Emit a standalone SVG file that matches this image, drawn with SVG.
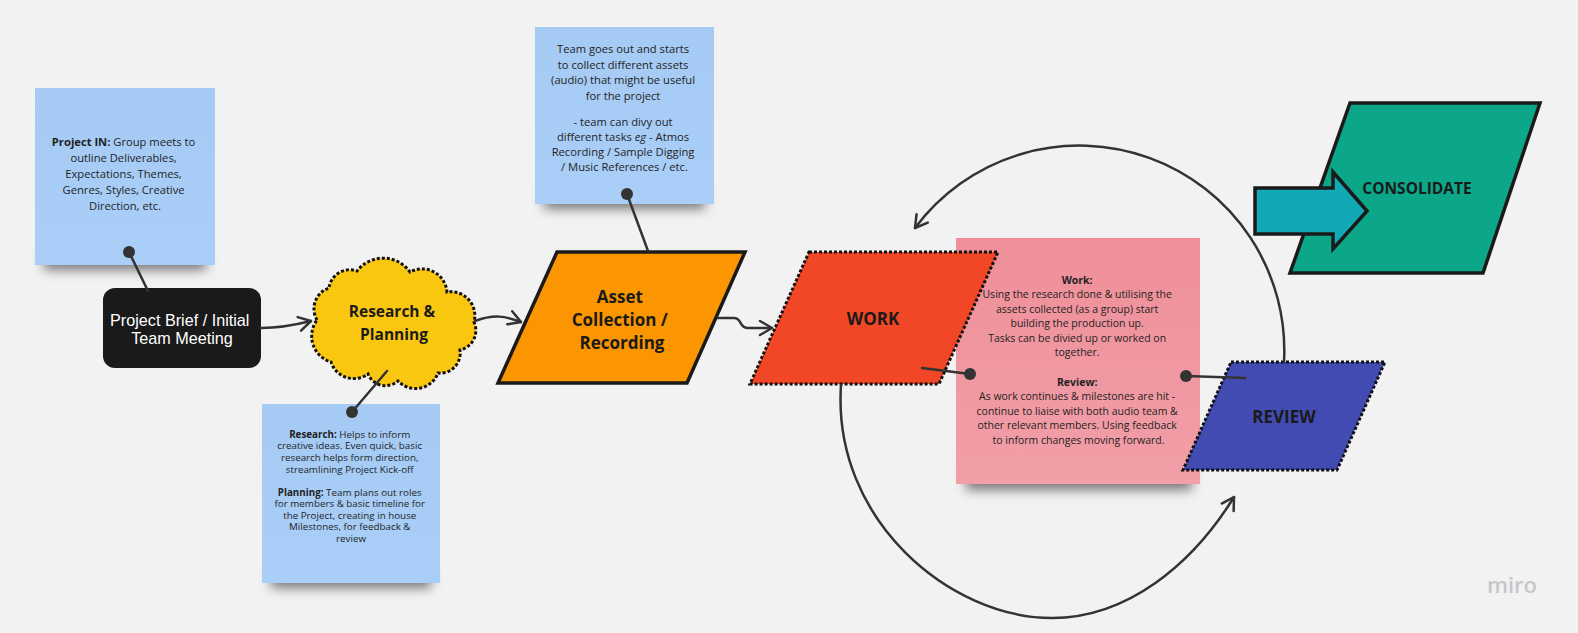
<svg xmlns="http://www.w3.org/2000/svg" width="1578" height="633" viewBox="0 0 1578 633">
<defs>
<style>
.note{font-family:"Open Sans","Noto Sans",sans-serif;fill:#1f1f1f;text-anchor:middle}
.lbl{font-family:"Open Sans","Noto Sans",sans-serif;font-weight:700;fill:#1a1a1a;text-anchor:middle}
.conn{fill:none;stroke:#333;stroke-width:2.5;stroke-linecap:round}
.dot{fill:#333}
.dotted{stroke:#111;stroke-width:3;stroke-dasharray:3 2}
.shadow{fill:#000;opacity:0.5;filter:url(#blur)}
.b{font-weight:700}
</style>
<filter id="blur" x="-20%" y="-100%" width="140%" height="300%"><feGaussianBlur stdDeviation="6"/></filter>
<linearGradient id="pinkg" x1="0" y1="0" x2="0" y2="1"><stop offset="0" stop-color="#ee8f99"/><stop offset="1" stop-color="#f29fa8"/></linearGradient>
<linearGradient id="blueg" x1="0" y1="0" x2="0" y2="1"><stop offset="0" stop-color="#a5caf4"/><stop offset="1" stop-color="#a9cef7"/></linearGradient>
<marker id="arr" markerUnits="userSpaceOnUse" markerWidth="18" markerHeight="20" viewBox="-15 -10 18 20" refX="0" refY="0" orient="auto" overflow="visible"><path d="M-12,-7 L0,0 L-12,7" fill="none" stroke="#333" stroke-width="2.5" stroke-linecap="round" stroke-linejoin="round"/></marker>
</defs>
<rect width="1578" height="633" fill="#f2f2f2"/>

<g id="note-project-in">
<rect class="shadow" x="44" y="250" width="162" height="20"/>
<rect x="35" y="88" width="180" height="177" fill="url(#blueg)"/>
<text class="note" font-size="11.2">
<tspan x="125" y="146"><tspan class="b">Project IN:</tspan> Group meets to</tspan>
<tspan x="125" y="162">outline Deliverables,</tspan>
<tspan x="125" y="178">Expectations, Themes,</tspan>
<tspan x="125" y="194">Genres, Styles, Creative</tspan>
<tspan x="125" y="210">Direction, etc.</tspan>
</text>
</g>

<g id="note-research">
<rect class="shadow" x="271" y="568" width="160" height="20"/>
<rect x="262" y="404" width="178" height="179" fill="url(#blueg)"/>
<text class="note" font-size="9.8">
<tspan x="351" y="437.5"><tspan class="b">Research:</tspan> Helps to inform</tspan>
<tspan x="351" y="449">creative ideas. Even quick, basic</tspan>
<tspan x="351" y="461">research helps form direction,</tspan>
<tspan x="351" y="472.5">streamlining Project Kick-off</tspan>
<tspan x="351" y="495.5"><tspan class="b">Planning:</tspan> Team plans out roles</tspan>
<tspan x="351" y="507">for members &amp; basic timeline for</tspan>
<tspan x="351" y="518.5">the Project, creating in house</tspan>
<tspan x="351" y="530">Milestones, for feedback &amp;</tspan>
<tspan x="351" y="541.5">review</tspan>
</text>
</g>

<g id="note-assets">
<rect class="shadow" x="544" y="189" width="161" height="20"/>
<rect x="535" y="27" width="179" height="177" fill="url(#blueg)"/>
<text class="note" font-size="11.2">
<tspan x="624.5" y="53">Team goes out and starts</tspan>
<tspan x="624.5" y="69">to collect different assets</tspan>
<tspan x="624.5" y="84">(audio) that might be useful</tspan>
<tspan x="624.5" y="100">for the project</tspan>
<tspan x="624.5" y="126">- team can divy out</tspan>
<tspan x="624.5" y="141">different tasks <tspan font-style="italic">eg</tspan> - Atmos</tspan>
<tspan x="624.5" y="156">Recording / Sample Digging</tspan>
<tspan x="624.5" y="171">/ Music References / etc.</tspan>
</text>
</g>

<g id="note-work-review">
<rect class="shadow" x="966" y="468" width="226" height="22"/>
<rect x="956" y="238" width="244" height="246" fill="url(#pinkg)"/>
<text class="note" font-size="10.5">
<tspan x="1078.5" y="283.7" class="b">Work:</tspan>
<tspan x="1078.5" y="298.2">Using the research done &amp; utilising the</tspan>
<tspan x="1078.5" y="312.7">assets collected (as a group) start</tspan>
<tspan x="1078.5" y="327.2">building the production up.</tspan>
<tspan x="1078.5" y="341.7">Tasks can be divied up or worked on</tspan>
<tspan x="1078.5" y="356.2">together.</tspan>
<tspan x="1078.5" y="385.7" class="b">Review:</tspan>
<tspan x="1078.5" y="400.2">As work continues &amp; milestones are hit -</tspan>
<tspan x="1078.5" y="414.7">continue to liaise with both audio team &amp;</tspan>
<tspan x="1078.5" y="429.2">other relevant members. Using feedback</tspan>
<tspan x="1078.5" y="443.7">to inform changes moving forward.</tspan>
</text>
</g>

<g id="node-brief">
<rect x="103" y="288" width="158" height="80" rx="12" fill="#1a1a1a"/>
<text font-family="'Liberation Sans',Arial,sans-serif" font-size="16.2" fill="#fff" text-anchor="middle">
<tspan x="182" y="326">Project Brief / Initial</tspan>
<tspan x="182" y="344">Team Meeting</tspan>
</text>
</g>

<g id="node-research">
<path class="dotted" fill="#fac710" d="M317,320 A22,22 0 0 1 329,288 A21,21 0 0 1 357,271 A33,33 0 0 1 410,272 A25,25 0 0 1 447,292 A24,24 0 0 1 474,322 A20,20 0 0 1 460,350 A20,20 0 0 1 438,373 A24,24 0 0 1 398,381 A19,19 0 0 1 368,374 A24,24 0 0 1 331,362 A27,27 0 0 1 317,320 Z"/>
<text class="lbl" font-size="15.5">
<tspan x="394" y="317">Research &amp;</tspan>
<tspan x="394" y="340">Planning</tspan>
</text>
</g>

<g id="node-asset">
<polygon points="557,252 745,252 687,383 498,383" fill="#fb9600" stroke="#1a1a1a" stroke-width="3.5" stroke-linejoin="miter"/>
<text class="lbl" font-size="17">
<tspan x="622" y="303">Asset</tspan>
<tspan x="622" y="326">Collection /</tspan>
<tspan x="622" y="349">Recording</tspan>
</text>
</g>

<g id="node-work">
<polygon class="dotted" points="809,252 998,252 939,384 750,384" fill="#f24726"/>
<text class="lbl" x="873" y="325" font-size="17">WORK</text>
</g>

<g id="node-review">
<polygon class="dotted" points="1231,362 1385,362 1337,470 1183,470" fill="#414bb2"/>
<text class="lbl" x="1284" y="423" font-size="17">REVIEW</text>
</g>

<g id="node-consolidate">
<polygon points="1350,103 1540,103 1483,273 1290,273" fill="#0ca789" stroke="#1a1a1a" stroke-width="3.5"/>
<text class="lbl" x="1417" y="193.5" font-size="15.5">CONSOLIDATE</text>
</g>

<g id="node-arrow-shape">
<polygon points="1255,188 1333,188 1333,172 1367,211 1333,249 1333,234 1255,234" fill="#12a9b7" stroke="#1a1a1a" stroke-width="3.5" stroke-linejoin="miter"/>
</g>

<g id="connectors">
<path class="conn" d="M261,328 C280,328 295,325 311,321" marker-end="url(#arr)"/>
<path class="conn" d="M475,321 C494,314 505,316 521,322" marker-end="url(#arr)"/>
<path class="conn" d="M718,318 L734,318 C742,318 739,328 748,328 L772,328" marker-end="url(#arr)"/>
<path class="conn" d="M1284,362 A205,205 0 0 0 915,228" marker-end="url(#arr)"/>
<path class="conn" d="M841,385 C832,520 950,618 1052,618 C1127,618 1192,565 1234,497" marker-end="url(#arr)"/>
<line class="conn" x1="148" y1="291" x2="129" y2="252"/>
<circle class="dot" cx="129" cy="252" r="6"/>
<line class="conn" x1="387" y1="371" x2="352" y2="412"/>
<circle class="dot" cx="352" cy="412" r="6"/>
<line class="conn" x1="648" y1="251" x2="627" y2="194"/>
<circle class="dot" cx="627" cy="194" r="6"/>
<line class="conn" x1="922" y1="368" x2="970" y2="374"/>
<circle class="dot" cx="970" cy="374" r="6"/>
<line class="conn" x1="1245" y1="378" x2="1186" y2="376"/>
<circle class="dot" cx="1186" cy="376" r="6"/>
</g>

<g id="logo">
<text x="1512" y="593" font-family="'Open Sans','Noto Sans',sans-serif" font-weight="600" font-size="22" fill="#c6c6cc" text-anchor="middle">miro</text>
</g>
</svg>
